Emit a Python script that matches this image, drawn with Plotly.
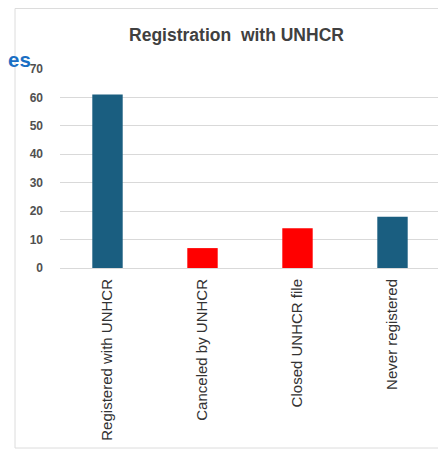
import plotly.graph_objects as go

categories = ["Registered with UNHCR", "Canceled by UNHCR", "Closed UNHCR file", "Never registered"]
values = [61, 7, 14, 18]
bar_colors = ["#1a5e80", "#ff0000", "#ff0000", "#1a5e80"]
y_ticks = [0, 10, 20, 30, 40, 50, 60, 70]

# page body has an 8px margin; figure coords = screen coords - 8
OFF = 8
W, H = 438, 441
L, R, T, B = 60 - OFF, 6, 69 - OFF, 441 - (268 - OFF)
pw, ph = W - L - R, H - T - B

def px_x(sx):
    return (sx - OFF - L) / pw

def px_y(sy):
    return (H - B - (sy - OFF)) / ph

FONT = "Liberation Sans, Arial, sans-serif"

fig = go.Figure(go.Bar(x=categories, y=values, marker=dict(color=bar_colors, line=dict(width=0)),
                       width=0.32))

fig.update_layout(
    width=W, height=H,
    margin=dict(l=L, r=R, t=T, b=B),
    paper_bgcolor="white", plot_bgcolor="white",
    showlegend=False,
    font=dict(family=FONT, color="#404040"),
    title=dict(text="Registration  with UNHCR", x=(236.5 - OFF) / W, xanchor="center",
               y=1 - (34.5 - OFF) / H, yanchor="middle", yref="container",
               font=dict(size=17.5, color="#404040", family=FONT, weight="bold")),
    xaxis=dict(tickangle=-90, tickfont=dict(size=15, color="#333333", family=FONT), showgrid=False,
               showline=True, linecolor="#d9d9d9", ticks="", ticklabelstandoff=4),
    yaxis=dict(range=[0, 70], tickvals=y_ticks, showgrid=True, gridcolor="#d9d9d9",
               zeroline=False, showline=False,
               tickfont=dict(size=12, color="#505050", family=FONT, weight="bold"),
               ticklabelstandoff=16),
    shapes=[dict(type="rect", xref="paper", yref="paper",
                 x0=px_x(15), x1=px_x(470), y0=px_y(448), y1=px_y(8.5),
                 line=dict(color="#dcdcdc", width=1), fillcolor="rgba(0,0,0,0)", layer="below")],
    annotations=[dict(text="es", xref="paper", yref="paper", x=px_x(31.5), y=px_y(60),
                      xanchor="right", yanchor="middle", showarrow=False, borderpad=0,
                      font=dict(size=20.5, color="#1a6fc4", family=FONT, weight="bold"))],
)

fig.write_html("out.html")
